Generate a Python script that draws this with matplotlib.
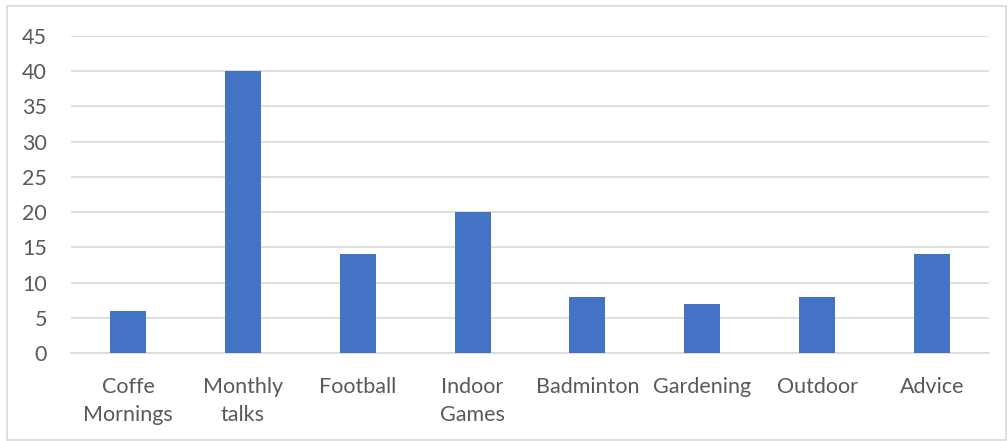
import matplotlib
matplotlib.use("Agg")
import matplotlib.pyplot as plt
from matplotlib.patches import Rectangle

categories = ["Coffe\nMornings", "Monthly\ntalks", "Football", "Indoor\nGames",
              "Badminton", "Gardening", "Outdoor", "Advice"]
values = [6, 40, 14, 20, 8, 7, 8, 14]
yticks = [0, 5, 10, 15, 20, 25, 30, 35, 40, 45]

plt.rcParams['font.family'] = ['Lato', 'DejaVu Sans']
fig = plt.figure(figsize=(10.08, 4.41), dpi=100)
ax = fig.add_axes([0.0700, 0.1995, 0.9116, 0.7189])

x = range(len(categories))
ax.bar(x, values, width=0.313, color="#4472C4", zorder=3)
ax.set_xlim(-0.5, len(categories) - 0.5)
ax.set_ylim(0, 45)
ax.set_yticks(yticks)
ax.set_xticks(list(x))
ax.set_xticklabels(categories, linespacing=1.5)
ax.grid(axis='y', color="#d9d9d9", linewidth=1.2, zorder=0)
for s in ['top', 'right', 'left']:
    ax.spines[s].set_visible(False)
ax.spines['bottom'].set_color("#d9d9d9")
ax.spines['bottom'].set_linewidth(1.2)
ax.tick_params(axis='both', length=0, labelsize=15.5, labelcolor="#595959")
ax.tick_params(axis='x', pad=17)
ax.tick_params(axis='y', pad=17)

fig.patches.append(Rectangle((0.007, 0.003), 0.991, 0.984, transform=fig.transFigure,
                             fill=False, edgecolor="#d9d9d9", linewidth=1.2))

fig.savefig("out.png", dpi=100)
